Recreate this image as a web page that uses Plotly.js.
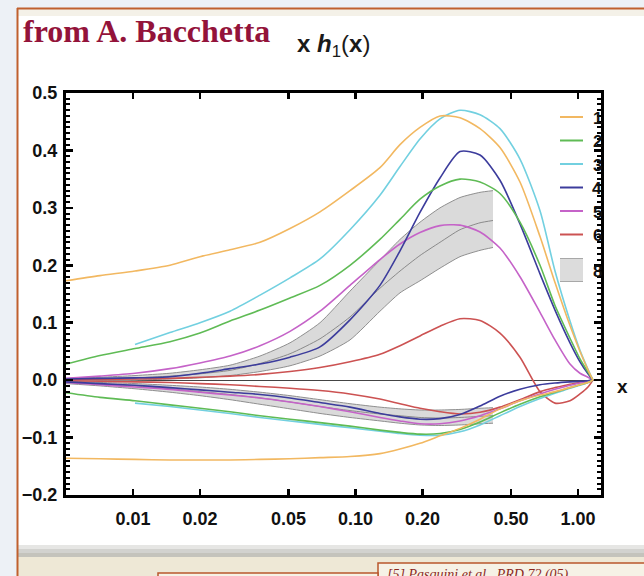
<!DOCTYPE html>
<html><head><meta charset="utf-8">
<script src="https://cdn.plot.ly/plotly-3.0.1.min.js"></script>
<style>html,body{margin:0;padding:0;background:#fff;} #chart{width:644px;height:576px;}</style>
</head><body><div id="chart"></div>
<script>
// ---- data ----
const xs = [0.005, 0.007106, 0.01021, 0.01466, 0.02, 0.02729, 0.03723, 0.05078, 0.06926, 0.09446, 0.1288, 0.1585, 0.1949, 0.2398, 0.2949, 0.3628, 0.446, 0.5486, 0.675, 0.7882, 0.9205, 1.0209, 1.1089, 1.1679];

const h1Up = [.173,.182,.190,.200,.215,.227,.240,.264,.293,.330,.370,.410,.440,.460,.457,.438,.405,.345,.250,.170,.095,.050,.018,0];
const h1Lo = [-.136,-.137,-.138,-.139,-.139,-.139,-.138,-.137,-.135,-.133,-.128,-.120,-.110,-.097,-.084,-.068,-.050,-.036,-.026,-.020,-.013,-.008,-.004,0];
const h2Up = [.028,.043,.055,.067,.082,.103,.122,.143,.165,.200,.245,.280,.315,.338,.350,.345,.325,.275,.200,.130,.073,.037,.014,0];
const h2Lo = [-.022,-.030,-.036,-.043,-.049,-.055,-.062,-.068,-.074,-.080,-.087,-.091,-.094,-.093,-.086,-.073,-.057,-.042,-.029,-.021,-.013,-.008,-.004,0];
const h3Up = [null,null,.062,.083,.100,.120,.148,.178,.211,.262,.322,.372,.420,.455,.470,.462,.438,.385,.295,.190,.103,.052,.019,0];
const h3Lo = [null,null,-.040,-.046,-.052,-.058,-.065,-.071,-.077,-.083,-.089,-.093,-.096,-.096,-.090,-.078,-.062,-.046,-.032,-.023,-.014,-.009,-.004,0];
const h4Up = [.002,.003,.004,.006,.012,.020,.028,.040,.058,.105,.165,.225,.292,.352,.398,.392,.348,.272,.185,.122,.065,.032,.011,0];
const h4Lo = [-.003,-.006,-.009,-.013,-.017,-.021,-.025,-.031,-.039,-.047,-.058,-.064,-.068,-.067,-.060,-.045,-.028,-.016,-.008,-.005,-.003,-.002,-.001,0];
const h5Up = [.003,.007,.012,.020,.030,.042,.060,.085,.120,.165,.210,.237,.257,.269,.270,.258,.230,.180,.118,.070,.028,.012,.005,0];
const h5Lo = [-.004,-.008,-.012,-.016,-.021,-.026,-.031,-.038,-.046,-.055,-.065,-.071,-.076,-.076,-.071,-.062,-.050,-.036,-.024,-.016,-.009,-.005,-.002,0];
const h6Up = [.001,.001,.002,.003,.005,.007,.010,.015,.022,.032,.045,.060,.077,.094,.107,.104,.082,.040,-.020,-.040,-.036,-.024,-.012,0];
const h6Lo = [-.001,-.002,-.003,-.004,-.006,-.008,-.011,-.014,-.018,-.024,-.033,-.041,-.049,-.055,-.059,-.056,-.047,-.034,-.020,-.013,-.007,-.004,-.002,0];

const bandX = [0.005, 0.007106, 0.01021, 0.01466, 0.02, 0.02729, 0.03723, 0.05078, 0.06926, 0.09446, 0.1288, 0.1585, 0.1949, 0.2398, 0.2949, 0.3628, 0.415];
const band8UpHi  = [.003,.005,.008,.012,.018,.026,.042,.065,.100,.155,.209,.245,.275,.300,.318,.327,.330];
const band8UpMid = [0,.002,.004,.007,.011,.017,.029,.046,.072,.110,.160,.190,.217,.240,.262,.274,.278];
const band8UpLo  = [-.002,-.001,0,.002,.004,.008,.015,.025,.042,.070,.120,.152,.173,.195,.215,.226,.231];
const band8LoHi  = [-.002,-.004,-.006,-.009,-.012,-.016,-.021,-.027,-.034,-.041,-.047,-.050,-.052,-.052,-.051,-.049,-.048];
const band8LoMid = [-.004,-.007,-.010,-.015,-.020,-.025,-.031,-.038,-.046,-.053,-.059,-.062,-.065,-.066,-.065,-.063,-.062];
const band8LoLo  = [-.006,-.010,-.015,-.021,-.027,-.034,-.042,-.050,-.058,-.065,-.071,-.075,-.078,-.079,-.078,-.076,-.075];

const seriesNames = ['1','2','3','4','5','6'];
const bandName = '8';
const xTickVals = [0.01,0.02,0.05,0.1,0.2,0.5,1];
const xTickText = ['0.01','0.02','0.05','0.10','0.20','0.50','1.00'];
const yTickVals = [-0.2,-0.1,0,0.1,0.2,0.3,0.4,0.5];
const yTickText = ['\u22120.2','\u22120.1','0.0','0.1','0.2','0.3','0.4','0.5'];

// ---- styling ----
const colors = ['#f2b861','#5fbb55','#72d0e0','#3c3c9c','#c563c8','#cc5252'];
const ups = [h1Up,h2Up,h3Up,h4Up,h5Up,h6Up];
const los = [h1Lo,h2Lo,h3Lo,h4Lo,h5Lo,h6Lo];

const W=644,H=576, L=66, R=601, T=93, B=495;
const P = px => (px - L) / (R - L);
const Q = py => (B - py) / (B - T);

const traces = [];
function band(lo, mid, hi){
  traces.push({x:bandX, y:lo, mode:'lines', line:{color:'#8f8f8f', width:1, shape:'spline', smoothing:0.6}, showlegend:false, hoverinfo:'skip'});
  traces.push({x:bandX, y:hi, mode:'lines', fill:'tonexty', fillcolor:'#dadada', line:{color:'#8f8f8f', width:1, shape:'spline', smoothing:0.6}, showlegend:false, hoverinfo:'skip'});
  traces.push({x:bandX, y:mid, mode:'lines', line:{color:'#8a8a8a', width:1, shape:'spline', smoothing:0.6}, showlegend:false, hoverinfo:'skip'});
}
band(band8UpLo, band8UpMid, band8UpHi);
band(band8LoLo, band8LoMid, band8LoHi);

for (let i=5;i>=0;i--){
  traces.push({x:xs, y:los[i], mode:'lines', name:seriesNames[i], line:{color:colors[i], width:1.6, shape:'spline', smoothing:0.7}, showlegend:false});
  traces.push({x:xs, y:ups[i], mode:'lines', name:seriesNames[i], line:{color:colors[i], width:1.6, shape:'spline', smoothing:0.7}, showlegend:false});
}

// ---- slide decoration and manual legend ----
const shapes = [];
const ann = [];
const bg = '#edf1f6';
function rect(x0,y0,x1,y1,fill,lineColor,lw){
  shapes.push({type:'rect', xref:'paper', yref:'paper', x0:P(x0), x1:P(x1), y0:Q(y1), y1:Q(y0),
    fillcolor:fill, line:{color:lineColor||'rgba(0,0,0,0)', width:lw||0}, layer:'below'});
}
function seg(x0,y0,x1,y1,color,w,layer){
  shapes.push({type:'line', xref:'paper', yref:'paper', x0:P(x0), x1:P(x1), y0:Q(y0), y1:Q(y1),
    line:{color:color, width:w}, layer:layer||'above'});
}
rect(0,0,17,576,bg);
rect(0,0,644,8,bg);
rect(18,9,644,16,'#f4f1e8');
rect(18,545,644,549,'#e6e6e4');
rect(18,549,644,553,'#d2d2cf');
rect(18,553,644,557,'#c4c3bc');
rect(18,557,644,576,'#eee8d6');
rect(378,563,660,600,'#f6f2e6','#b9572c',1.5);
rect(158,573,378,600,'#f6f2e6','#b9572c',1.5);
seg(17.5,8,17.5,576,'#c0602e',2,'below');
seg(17,8.5,644,8.5,'#c0602e',2,'below');

const legRows = [117,140.5,164,187.5,211,234.5];
for (let i=0;i<6;i++){
  seg(560, legRows[i], 583, legRows[i], colors[i], 2);
  ann.push({xref:'paper', yref:'paper', x:P(597), y:Q(legRows[i]+1), text:'<b>'+seriesNames[i]+'</b>', showarrow:false,
    font:{family:'Liberation Sans, Arial, sans-serif', size:17, color:'#111'}, xanchor:'center', yanchor:'middle'});
}
shapes.push({type:'rect', xref:'paper', yref:'paper', x0:P(560), x1:P(583), y0:Q(282), y1:Q(258), fillcolor:'#dcdcdc', line:{width:0}});
seg(560,258.5,583,258.5,'#a8a8a8',1);
seg(560,281.5,583,281.5,'#a8a8a8',1);
ann.push({xref:'paper', yref:'paper', x:P(597), y:Q(271), text:'<b>'+bandName+'</b>', showarrow:false,
  font:{family:'Liberation Sans, Arial, sans-serif', size:17, color:'#111'}, xanchor:'center', yanchor:'middle'});

ann.push({xref:'paper', yref:'paper', x:P(21), y:Q(31), text:'<b>from A. Bacchetta</b>', showarrow:false,
  font:{family:'Liberation Serif, Times New Roman, serif', size:32, color:'#93133a'}, xanchor:'left', yanchor:'middle'});
ann.push({xref:'paper', yref:'paper', x:P(295), y:Q(45), text:'<b>x</b> <b><i>h</i></b><sub>1</sub>(<b>x</b>)', showarrow:false,
  font:{family:'Liberation Sans, Arial, sans-serif', size:24, color:'#1a1a1a'}, xanchor:'left', yanchor:'middle'});
ann.push({xref:'paper', yref:'paper', x:P(622), y:Q(386), text:'<b>x</b>', showarrow:false,
  font:{family:'Liberation Sans, Arial, sans-serif', size:19, color:'#111'}, xanchor:'center', yanchor:'middle'});
ann.push({xref:'paper', yref:'paper', x:P(385), y:Q(565), text:'<i>[5] Pasquini et al., PRD 72 (05)</i>', showarrow:false,
  font:{family:'Liberation Serif, Times New Roman, serif', size:14, color:'#8c2a1e'}, xanchor:'left', yanchor:'top'});

const tickFont = {family:'Liberation Sans, Arial, sans-serif', size:18, color:'#111', weight:'bold'};
const layout = {
  width:W, height:H,
  margin:{l:L, r:W-R, t:T, b:H-B, pad:0},
  paper_bgcolor:'#ffffff', plot_bgcolor:'#ffffff',
  showlegend:false,
  xaxis:{type:'log', range:[-2.3011, 0.1034], tickvals:xTickVals, ticktext:xTickText,
    ticks:'inside', ticklen:6, tickwidth:2.5, tickcolor:'#000', showline:true, linewidth:3, linecolor:'#000',
    mirror:'allticks', showgrid:false, zeroline:false, tickfont:tickFont, ticklabelstandoff:5},
  yaxis:{range:[-0.2,0.5], tickvals:yTickVals, ticktext:yTickText,
    ticks:'inside', ticklen:7, tickwidth:2.5, tickcolor:'#000', showline:true, linewidth:3, linecolor:'#000',
    mirror:'allticks', showgrid:false, zeroline:true, zerolinecolor:'#444', zerolinewidth:1,
    minor:{dtick:0.01, tick0:0, ticks:'inside', ticklen:4, tickwidth:2, tickcolor:'#000', showgrid:false},
    tickfont:tickFont, ticklabelstandoff:2},
  shapes:shapes, annotations:ann
};
Plotly.newPlot('chart', traces, layout, {displayModeBar:false, staticPlot:true});
</script></body></html>
